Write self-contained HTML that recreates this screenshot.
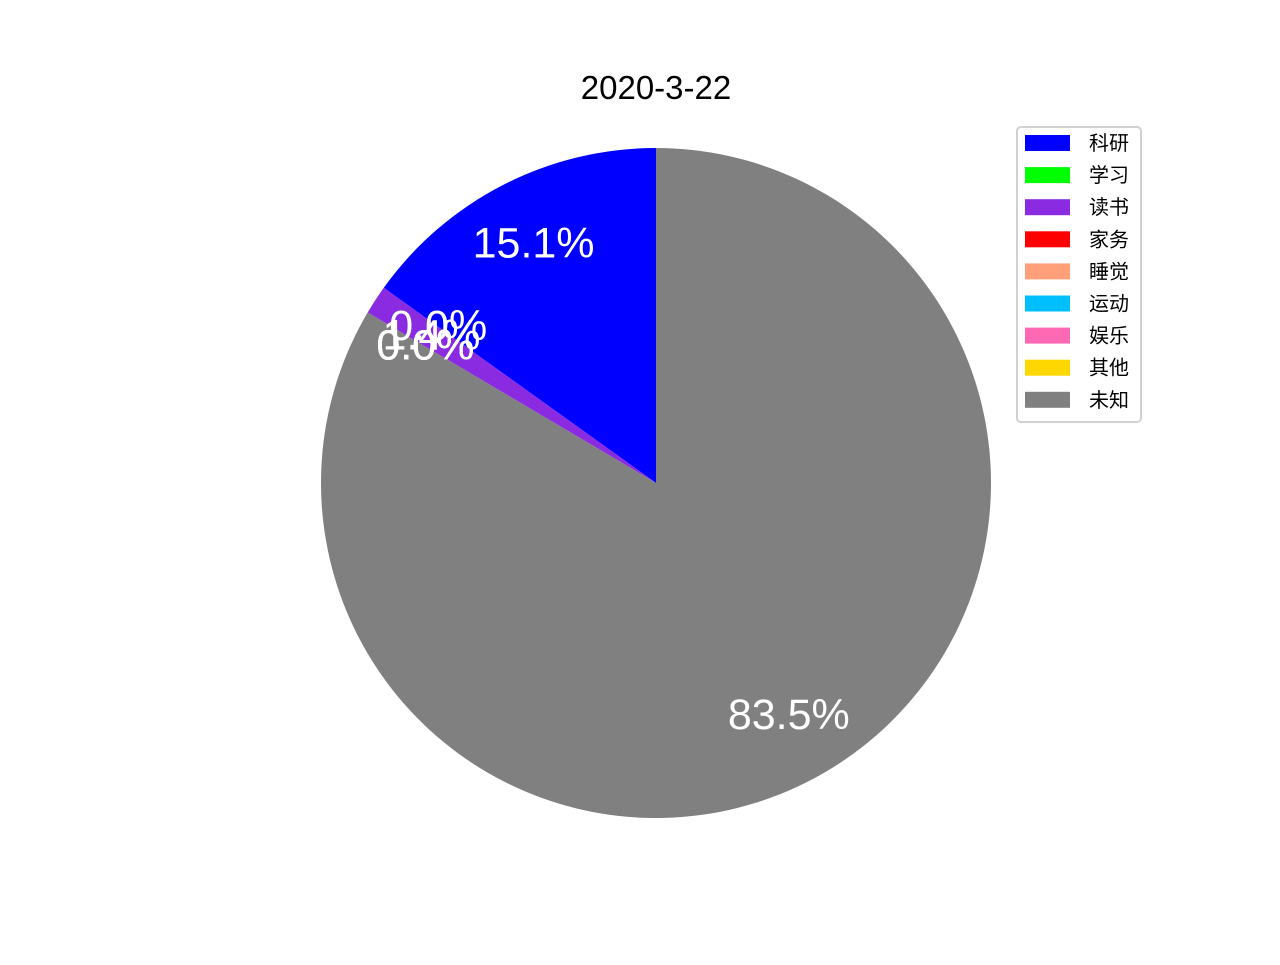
<!DOCTYPE html>
<html><head><meta charset="utf-8"><style>
body{margin:0;background:#fff;}
svg text{font-family:"Liberation Sans","Noto Sans CJK SC",sans-serif;}
</style></head><body>
<svg id="chart" width="1280" height="960" xmlns="http://www.w3.org/2000/svg">
<text x="656" y="99" font-size="33" text-anchor="middle" fill="#000">2020-3-22</text>
<g id="wedges"></g>
<g id="labels"></g>
<g id="legend"></g>
</svg>
<script>
const categories=["科研","学习","读书","家务","睡觉","运动","娱乐","其他","未知"];
const values=[15.1,0,1.4,0,0,0,0,0,83.5];
const colors=["#0000ff","#00ff00","#8a2be2","#ff0000","#ffa07a","#00bfff","#ff69b4","#ffd700","#808080"];
const NS="http://www.w3.org/2000/svg";
const cx=656,cy=483,r=335;
const total=values.reduce((a,b)=>a+b,0);
const wg=document.getElementById('wedges'),lg=document.getElementById('labels'),leg=document.getElementById('legend');
function pt(deg,rr){const a=deg*Math.PI/180;return [cx+rr*Math.cos(a),cy-rr*Math.sin(a)];}
let ang=90;
values.forEach((v,i)=>{
  const sweep=v/total*360;
  const a0=ang,a1=ang+sweep;
  if(sweep>0){
    const p0=pt(a0,r),p1=pt(a1,r);
    const large=sweep>180?1:0;
    const path=document.createElementNS(NS,'path');
    path.setAttribute('d',`M${cx},${cy} L${p0[0]},${p0[1]} A${r},${r} 0 ${large} 0 ${p1[0]},${p1[1]} Z`);
    path.setAttribute('fill',colors[i]);
    
    
    wg.appendChild(path);
  }
  const m=pt((a0+a1)/2,r*0.8);
  const t=document.createElementNS(NS,'text');
  t.setAttribute('x',m[0]);t.setAttribute('y',m[1]+13);
  t.setAttribute('text-anchor','middle');t.setAttribute('font-size','43');t.setAttribute('fill','#fff');
  t.textContent=(v/total*100).toFixed(1)+'%';
  
  
  lg.appendChild(t);
  ang=a1;
});
const box=document.createElementNS(NS,'rect');
box.setAttribute('x',1017);box.setAttribute('y',127);box.setAttribute('width',124);box.setAttribute('height',295);
box.setAttribute('rx',4);box.setAttribute('fill','#fff');box.setAttribute('stroke','#d0d0d0');box.setAttribute('stroke-width','2');


leg.appendChild(box);
categories.forEach((c,i)=>{
  const y=143+i*32.1;
  const g=document.createElementNS(NS,'g');
  
  
  const s=document.createElementNS(NS,'rect');
  s.setAttribute('x',1025);s.setAttribute('y',y-8);s.setAttribute('width',45);s.setAttribute('height',16);s.setAttribute('fill',colors[i]);
  g.appendChild(s);
  const t=document.createElementNS(NS,'text');
  t.setAttribute('x',1089);t.setAttribute('y',y+7);t.setAttribute('font-size','20');t.setAttribute('fill','#000');
  t.textContent=c;g.appendChild(t);
  leg.appendChild(g);
});
</script>
</body></html>
